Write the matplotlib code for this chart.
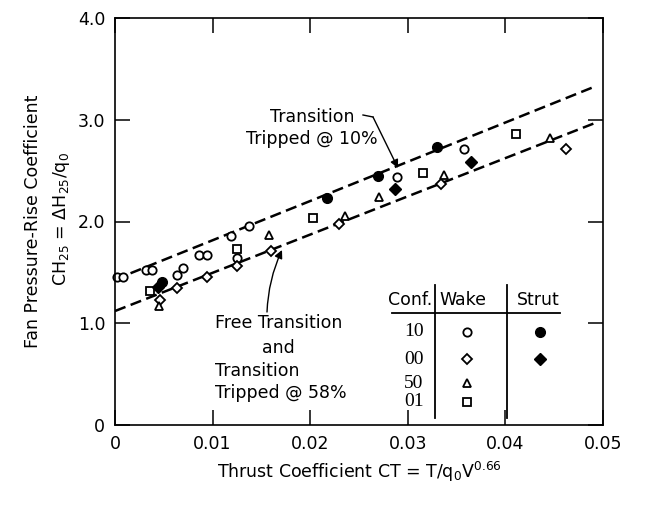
import matplotlib

matplotlib.use("Agg")
import matplotlib.pyplot as plt

plt.rcParams["font.family"] = ["DejaVu Sans"]
plt.rcParams["mathtext.fontset"] = "dejavusans"
plt.rcParams["mathtext.default"] = "regular"

# --- data -----------------------------------------------------------------
# open symbols = wake, filled symbols = strut
wake10_x = [0.0002, 0.0008, 0.0032, 0.0038, 0.0064, 0.0070, 0.0086, 0.0094,
            0.0119, 0.0125, 0.0137, 0.0289, 0.0358]
wake10_y = [1.45, 1.45, 1.52, 1.52, 1.47, 1.54, 1.67, 1.67,
            1.86, 1.64, 1.96, 2.44, 2.71]
wake00_x = [0.0046, 0.0064, 0.0094, 0.0125, 0.0160, 0.0229, 0.0334, 0.0462]
wake00_y = [1.23, 1.35, 1.45, 1.56, 1.71, 1.98, 2.37, 2.71]
wake50_x = [0.0045, 0.0158, 0.0236, 0.0270, 0.0337, 0.0446]
wake50_y = [1.17, 1.87, 2.05, 2.24, 2.46, 2.82]
wake01_x = [0.0036, 0.0125, 0.0203, 0.0316, 0.0411]
wake01_y = [1.32, 1.73, 2.03, 2.48, 2.86]
strut10_x = [0.0048, 0.0217, 0.0269, 0.0330]
strut10_y = [1.41, 2.23, 2.45, 2.73]
strut00_x = [0.0044, 0.0287, 0.0365]
strut00_y = [1.36, 2.32, 2.58]

# faired dashed lines (end points)
tripped10_x = [0.0, 0.0490]
tripped10_y = [1.43, 3.32]
free_x = [0.0, 0.0495]
free_y = [1.12, 2.98]

x_ticks = [0, 0.01, 0.02, 0.03, 0.04, 0.05]
x_labels = ["0", "0.01", "0.02", "0.03", "0.04", "0.05"]
y_ticks = [0, 1, 2, 3, 4]
y_labels = ["0", "1.0", "2.0", "3.0", "4.0"]

conf_labels = ["10", "00", "50", "01"]

# --- figure ---------------------------------------------------------------
W, H = 657, 509
fig = plt.figure(figsize=(W / 100, H / 100), dpi=100)
L, R, T, B = 115, 603, 18, 425
ax = fig.add_axes([L / W, 1 - B / H, (R - L) / W, (B - T) / H])


def axp(px, py):
    """pixel position in the picture -> axes fraction"""
    return (px - L) / (R - L), (B - py) / (B - T)


FS = 12.5
dash = dict(color="black", lw=1.8, dashes=(4.5, 2.2))
ax.plot(tripped10_x, tripped10_y, **dash)
ax.plot(free_x, free_y, **dash)

ms = 6
op = dict(ls="none", color="black", mfc="white", mew=1.3, clip_on=False)
fl = dict(ls="none", color="black", clip_on=False)
ax.plot(wake10_x, wake10_y, marker="o", ms=ms, **op)
ax.plot(wake00_x, wake00_y, marker="D", ms=ms - 0.8, **op)
ax.plot(wake50_x, wake50_y, marker="^", ms=ms, **op)
ax.plot(wake01_x, wake01_y, marker="s", ms=ms - 0.6, **op)
ax.plot(strut10_x, strut10_y, marker="o", ms=ms + 1, **fl)
ax.plot(strut00_x, strut00_y, marker="D", ms=ms + 0.5, **fl)

ax.set_xlim(0, 0.05)
ax.set_ylim(0, 4.0)
ax.set_xticks(x_ticks, x_labels)
ax.set_yticks(y_ticks, y_labels)
ax.tick_params(direction="in", top=True, right=True, length=11, width=1.1,
               labelsize=FS, pad=7)
for s in ax.spines.values():
    s.set_linewidth(1.2)

ax.set_xlabel(r"Thrust Coefficient CT = T/q$_0$V$^{0.66}$", fontsize=FS,
              labelpad=5)
fig.text(33 / W, 1 - 221 / H, "Fan Pressure-Rise Coefficient", rotation=90,
         ha="center", va="center", fontsize=FS)
fig.text(62 / W, 1 - 219 / H, r"CH$_{25}$ = $\Delta$H$_{25}$/q$_0$",
         rotation=90, ha="center", va="center", fontsize=FS)

# --- annotations ----------------------------------------------------------
ax.text(*axp(312, 128), "Transition\nTripped @ 10%", transform=ax.transAxes,
        ha="center", va="center", fontsize=FS, linespacing=1.25)
ax.plot(*zip(axp(363, 115), axp(373, 117)), transform=ax.transAxes,
        color="black", lw=1)
ax.annotate("", xy=axp(398, 168), xycoords="axes fraction",
            xytext=axp(373, 117), textcoords="axes fraction",
            arrowprops=dict(arrowstyle="-|>", color="black", lw=1,
                            mutation_scale=12, shrinkA=0, shrinkB=0))

ax.text(*axp(215, 323), "Free Transition", transform=ax.transAxes,
        ha="left", va="center", fontsize=FS)
ax.text(*axp(278, 348), "and", transform=ax.transAxes,
        ha="center", va="center", fontsize=FS)
ax.text(*axp(215, 371), "Transition", transform=ax.transAxes,
        ha="left", va="center", fontsize=FS)
ax.text(*axp(215, 393), "Tripped @ 58%", transform=ax.transAxes,
        ha="left", va="center", fontsize=FS)
ax.annotate("", xy=axp(282, 250), xycoords="axes fraction",
            xytext=axp(267, 312), textcoords="axes fraction",
            arrowprops=dict(arrowstyle="-|>", color="black", lw=1,
                            mutation_scale=12, shrinkA=0, shrinkB=0,
                            connectionstyle="arc3,rad=-0.1"))

# --- symbol key -----------------------------------------------------------
ax.text(*axp(410, 300), "Conf.", transform=ax.transAxes, ha="center",
        va="center", fontsize=FS)
ax.text(*axp(463, 300), "Wake", transform=ax.transAxes, ha="center",
        va="center", fontsize=FS)
ax.text(*axp(538, 300), "Strut", transform=ax.transAxes, ha="center",
        va="center", fontsize=FS)
ax.plot(*zip(axp(392, 313), axp(560, 313)), transform=ax.transAxes,
        color="black", lw=1.3)
for vx in (435, 507):
    ax.plot(*zip(axp(vx, 285), axp(vx, 418)), transform=ax.transAxes,
            color="black", lw=1.3)

row_y = [332, 359, 383, 402]
wake_mk = [("o", ms), ("D", ms - 0.8), ("^", ms), ("s", ms - 0.6)]
strut_mk = [("o", ms + 1), ("D", ms + 0.5), None, None]
for lab, ry, wm, sm in zip(conf_labels, row_y, wake_mk, strut_mk):
    ax.text(*axp(414, ry), lab, transform=ax.transAxes, ha="center",
            va="center", fontsize=14, family="Liberation Serif")
    ax.plot(*axp(467, ry), marker=wm[0], ms=wm[1], transform=ax.transAxes, **op)
    if sm:
        ax.plot(*axp(540, ry), marker=sm[0], ms=sm[1], transform=ax.transAxes,
                **fl)

fig.savefig("out.png", dpi=100)
